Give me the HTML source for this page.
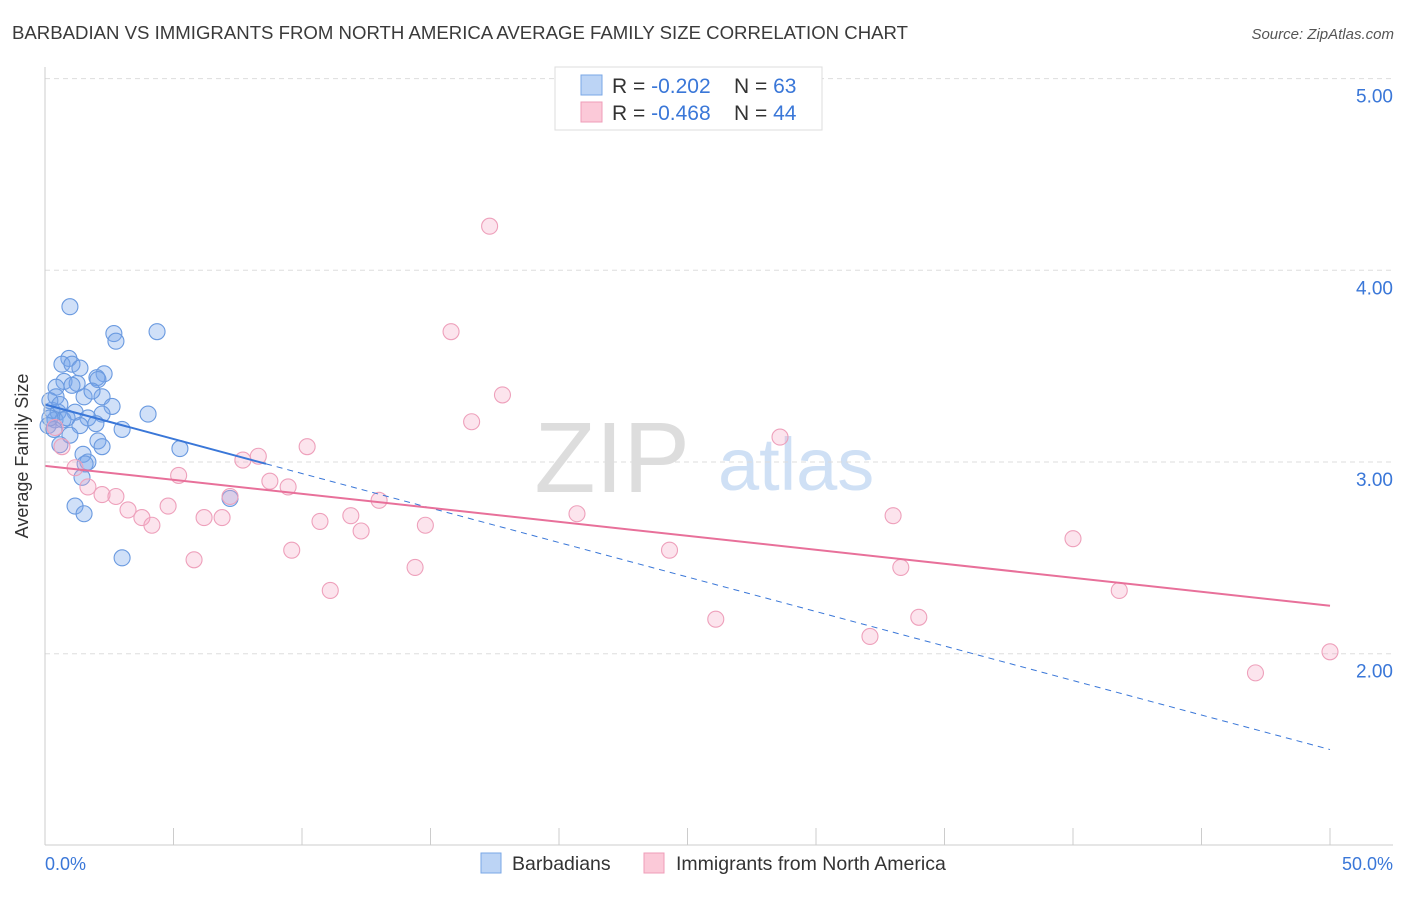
<!DOCTYPE html>
<html><head><meta charset="utf-8"><style>
body{margin:0;background:#fff;font-family:"Liberation Sans",sans-serif;}
svg text{font-family:"Liberation Sans",sans-serif;}
</style></head><body>
<svg id="chart" width="1406" height="892">
<text x="12" y="39" font-size="18.6" fill="#3a3a3a" textLength="896">BARBADIAN VS IMMIGRANTS FROM NORTH AMERICA AVERAGE FAMILY SIZE CORRELATION CHART</text>
<text x="1394" y="39" font-size="15" fill="#555" text-anchor="end" font-style="italic">Source: ZipAtlas.com</text>
<text x="690" y="492" font-size="100" fill="#ddd" text-anchor="end" font-family="Liberation Serif">ZIP</text>
<text x="718" y="490" font-size="74" fill="#cfe0f5">atlas</text>
<g id="grid"></g><g id="pts"></g><g id="trend"></g>
<line x1="45" y1="67" x2="45" y2="845" stroke="#ccc"/>
<line x1="45" y1="845" x2="1393" y2="845" stroke="#ccc"/>
<text x="28" y="456" font-size="18" fill="#333" text-anchor="middle" transform="rotate(-90 28 456)">Average Family Size</text>
<text x="45" y="870" font-size="18" fill="#3a77d8">0.0%</text>
<text x="1393" y="870" font-size="18" fill="#3a77d8" text-anchor="end">50.0%</text>
<g>
<rect x="555" y="67" width="267" height="63" fill="#fff" stroke="#ddd"/>
<rect x="581" y="75" width="21" height="20" fill="#bcd4f5" stroke="#7aa7e6"/>
<rect x="581" y="102" width="21" height="20" fill="#fbc9d8" stroke="#ef9db8"/>
<text x="612" y="93" font-size="21" fill="#333">R = <tspan fill="#3a77d8">-0.202</tspan></text>
<text x="734" y="93" font-size="21" fill="#333">N = <tspan fill="#3a77d8">63</tspan></text>
<text x="612" y="120" font-size="21" fill="#333">R = <tspan fill="#3a77d8">-0.468</tspan></text>
<text x="734" y="120" font-size="21" fill="#333">N = <tspan fill="#3a77d8">44</tspan></text>
</g>
<g>
<rect x="481" y="853" width="20" height="20" fill="#bcd4f5" stroke="#7aa7e6"/>
<text x="512" y="870" font-size="19.5" fill="#333">Barbadians</text>
<rect x="644" y="853" width="20" height="20" fill="#fbc9d8" stroke="#ef9db8"/>
<text x="676" y="870" font-size="19.5" fill="#333">Immigrants from North America</text>
</g>
</svg>
<script>
const yTicks=[5,4,3,2];
const yTickLabels=["5.00","4.00","3.00","2.00"];
const xTicks=[0,5,10,15,20,25,30,35,40,45,50];
const blueX=[0.97,2.68,2.76,4.36,0.93,0.66,1.05,1.36,2.30,2.02,0.74,0.43,1.25,2.06,1.05,1.52,0.43,2.22,2.61,4.01,0.27,0.51,1.17,2.22,1.67,0.39,0.70,1.36,1.98,3.0,0.97,2.06,2.22,5.25,0.58,1.48,1.67,1.56,1.44,1.17,1.52,3.0,7.2,0.19,0.12,0.35,0.86,0.19,0.58,1.83];
const blueY=[3.81,3.67,3.63,3.68,3.54,3.51,3.51,3.49,3.46,3.44,3.42,3.39,3.41,3.43,3.40,3.34,3.34,3.34,3.29,3.25,3.27,3.26,3.26,3.25,3.23,3.22,3.22,3.19,3.20,3.17,3.14,3.11,3.08,3.07,3.09,3.04,3.0,2.99,2.92,2.77,2.73,2.50,2.81,3.32,3.19,3.17,3.23,3.23,3.30,3.37];
const pinkX=[17.3,15.8,17.8,16.6,28.6,10.2,8.3,7.7,0.66,1.17,5.2,1.67,8.75,9.46,2.22,2.76,7.2,13.0,3.23,4.79,3.77,6.19,6.89,4.16,10.7,11.9,12.3,14.8,20.7,33.0,9.6,5.8,24.3,40.0,14.4,33.3,11.1,41.8,26.1,34.0,32.1,50.0,47.1,0.39];
const pinkY=[4.23,3.68,3.35,3.21,3.13,3.08,3.03,3.01,3.08,2.97,2.93,2.87,2.90,2.87,2.83,2.82,2.82,2.80,2.75,2.77,2.71,2.71,2.71,2.67,2.69,2.72,2.64,2.67,2.73,2.72,2.54,2.49,2.54,2.60,2.45,2.45,2.33,2.33,2.18,2.19,2.09,2.01,1.90,3.18];
const blueTrend=[3.30,-0.036];
const pinkTrend=[2.98,-0.0146];
const blueSolidEnd=8.6;
const NS="http://www.w3.org/2000/svg";
const sx=v=>45+v*25.7, sy=v=>462-(v-3)*191.7;
function mk(tag,attrs,parent){const e=document.createElementNS(NS,tag);for(const k in attrs)e.setAttribute(k,attrs[k]);document.getElementById(parent).appendChild(e);return e;}
yTicks.forEach((t,i)=>{
 const l=mk('line',{x1:45,x2:1393,y1:sy(t),y2:sy(t),stroke:'#ddd','stroke-dasharray':'5,4'},'grid');
 
 
 const tx=mk('text',{x:1393,y:sy(t)+24,'font-size':19,fill:'#3a77d8','text-anchor':'end'},'grid');
 tx.textContent=yTickLabels[i];
 
 
});
xTicks.forEach(t=>{
 const l=mk('line',{x1:sx(t),x2:sx(t),y1:828,y2:845,stroke:'#ccc'},'grid');
 
 
});
blueX.forEach((x,i)=>{
 const c=mk('circle',{cx:sx(x),cy:sy(blueY[i]),r:8,fill:'rgba(120,165,235,0.35)',stroke:'#6a9ae0','stroke-width':1.1},'pts');
 
 
});
pinkX.forEach((x,i)=>{
 const c=mk('circle',{cx:sx(x),cy:sy(pinkY[i]),r:8,fill:'rgba(245,165,195,0.3)',stroke:'#eea0bb','stroke-width':1.1},'pts');
 
 
});
const bt=x=>blueTrend[0]+blueTrend[1]*x, pt=x=>pinkTrend[0]+pinkTrend[1]*x;
let l1=mk('line',{x1:sx(0),y1:sy(bt(0)),x2:sx(blueSolidEnd),y2:sy(bt(blueSolidEnd)),stroke:'#3a77d8','stroke-width':2},'trend');


let l2=mk('line',{x1:sx(blueSolidEnd),y1:sy(bt(blueSolidEnd)),x2:sx(50),y2:sy(bt(50)),stroke:'#3a77d8','stroke-width':1,'stroke-dasharray':'6,5'},'trend');


let l3=mk('line',{x1:sx(0),y1:sy(pt(0)),x2:sx(50),y2:sy(pt(50)),stroke:'#e8709a','stroke-width':2},'trend');


</script>
</body></html>
